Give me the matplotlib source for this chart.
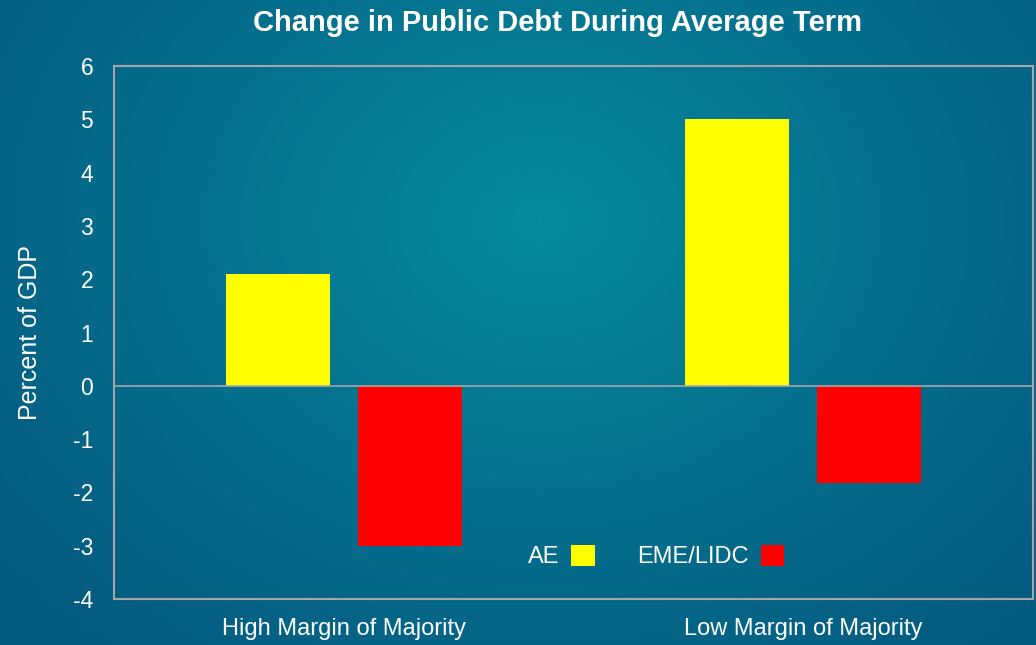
# Change in public debt during average term - grouped bars
import numpy as np
import matplotlib.pyplot as plt
from matplotlib.colors import LinearSegmentedColormap

plt.rcParams['font.family'] = ['Liberation Sans', 'DejaVu Sans']

categories = ['High Margin of Majority', 'Low Margin of Majority']
ae = [2.1, 5.0]
eme_lidc = [-3.0, -1.82]
yticks = [-4, -3, -2, -1, 0, 1, 2, 3, 4, 5, 6]

fig = plt.figure(figsize=(10.36, 6.45), dpi=100)

# radial gradient background
bg = fig.add_axes([0, 0, 1, 1], zorder=-10)
yy, xx = np.mgrid[0:645, 0:1036]
r = np.sqrt(((xx - 540) / 700.0) ** 2 + ((yy - 220) / 560.0) ** 2)
cmap = LinearSegmentedColormap.from_list('bg', ['#058b9c', '#06708e', '#055a80'])
bg.imshow(np.clip(r, 0, 1), cmap=cmap, aspect='auto', vmin=0, vmax=1)
bg.axis('off')

ax = fig.add_axes([114 / 1036, 1 - 599 / 645, 919 / 1036, 533 / 645])
ax.patch.set_alpha(0)
x = np.arange(len(categories))
w = 0.226
ax.bar(x - 0.144, ae, w, color='#ffff00', label='AE', zorder=3)
ax.bar(x + 0.144, eme_lidc, w, color='#ff0000', label='EME/LIDC', zorder=3)
ax.axhline(0, color='#a6a6a6', lw=1.2, zorder=4)

ax.set_xlim(-0.5, 1.5)
ax.set_ylim(-4, 6)
ax.set_yticks(yticks)
ax.set_yticklabels([str(v) for v in yticks])
ax.set_xticks(x)
ax.set_xticklabels(categories)
ax.tick_params(axis='both', length=0, colors='white', labelsize=17)
ax.tick_params(axis='y', pad=15, labelsize=16.5)
ax.tick_params(axis='x', pad=14)
for s in ax.spines.values():
    s.set_color('#a6a6a6')
    s.set_linewidth(1.5)
ax.set_ylabel('Percent of GDP', color='white', fontsize=18, labelpad=22)

fig.text(0.538, 0.965, 'Change in Public Debt During Average Term', color='white',
         fontsize=21, fontweight='bold', ha='center', va='center')

leg = ax.legend(loc='center', bbox_to_anchor=(0.59, 0.08), ncol=2, frameon=False,
                markerfirst=False, fontsize=17, handlelength=1.0, handleheight=1.0,
                columnspacing=1.8, handletextpad=0.5)
for t in leg.get_texts():
    t.set_color('white')

plt.savefig('out.png', dpi=100)
